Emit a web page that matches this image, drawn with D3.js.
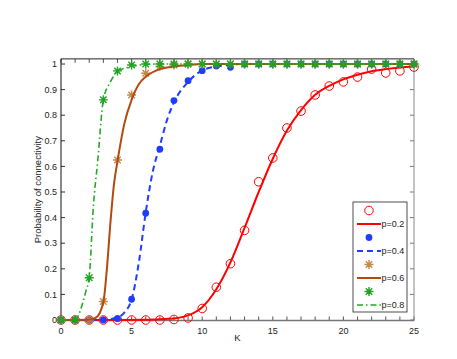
<!DOCTYPE html>
<html>
<head>
<meta charset="utf-8">
<script src="https://cdn.jsdelivr.net/npm/d3@7"></script>
<style>
  body { margin: 0; background: #fff; }
  svg text { font-family: "Liberation Sans", Arial, sans-serif; fill: #222; }
</style>
</head>
<body>
<svg id="chart" width="457" height="359"></svg>
<script>
/* ---------- data ---------- */
const K = [0,1,2,3,4,5,6,7,8,9,10,11,12,13,14,15,16,17,18,19,20,21,22,23,24,25];

// simulated points (markers)
const sim02 = [0,0,0,0,0,0,0,0,0.002,0.008,0.045,0.128,0.22,0.35,0.54,0.633,0.75,0.816,0.879,0.914,0.93,0.949,0.98,0.965,0.973,0.988];
const sim04 = [0,0,0,0,0.005,0.081,0.417,0.667,0.857,0.935,0.974,0.992,0.987,1,1,1,1,1,1,1,1,1,1,1,1,1];
const sim06 = [0,0,0,0.072,0.625,0.879,0.964,0.99,0.996,1,1,1,1,1,1,1,1,1,1,1,1,1,1,1,1,1];
const sim08 = [0,0,0.165,0.86,0.973,0.996,1,1,1,1,1,1,1,1,1,1,1,1,1,1,1,1,1,1,1,1];

// analytical curves
const line02K = [0,2,4,6,7,8,9,10,11,12,13,14,15,16,17,18,19,20,21,22,23,24,25];
const line02  = [0,0,0,0.001,0.003,0.006,0.018,0.05,0.12,0.225,0.36,0.5,0.63,0.74,0.82,0.88,0.915,0.94,0.958,0.972,0.98,0.986,0.99];
const line04K = [0,3,4,4.5,5,5.5,6,6.5,7,7.5,8,9,10,11,12,13,25];
const line04  = [0,0.001,0.01,0.03,0.08,0.22,0.42,0.58,0.68,0.78,0.85,0.93,0.975,0.99,0.997,1,1];
const line06K = [0,2,2.5,3,3.25,3.5,3.75,4,4.5,5,5.5,6,7,8,9,10,25];
const line06  = [0,0.001,0.01,0.07,0.2,0.38,0.53,0.62,0.77,0.86,0.92,0.95,0.98,0.99,0.996,1,1];
const line08K = [0,1,1.25,1.5,1.75,2,2.3,2.6,3,3.5,4,5,6,7,25];
const line08  = [0,0.002,0.02,0.06,0.11,0.17,0.45,0.62,0.86,0.93,0.97,0.99,0.998,1,1];

const yTicks = [0,0.1,0.2,0.3,0.4,0.5,0.6,0.7,0.8,0.9,1];
const xLabelTicks = [0,5,10,15,20,25];
const labels = ['p=0.2','p=0.4','p=0.6','p=0.8'];

/* ---------- layout ---------- */
const svg = d3.select('#chart');
const x = d3.scaleLinear().domain([0,25]).range([61,414]);
const y = d3.scaleLinear().domain([0,1]).range([320,64]);
const boxTop = y(1.02), boxBot = 320.5;

/* ---------- series styles ---------- */
const series = [
  {sim: sim02, lk: line02K, lv: line02, col:'#ff0000', mcol:'#ff0000', mark:'circle', dash:null,      w:2},
  {sim: sim04, lk: line04K, lv: line04, col:'#1f3dff', mcol:'#1f3dff', mark:'dot',    dash:'6,4',     w:2},
  {sim: sim06, lk: line06K, lv: line06, col:'#b24a10', mcol:'#c48a48', mark:'star',   dash:null,      w:2},
  {sim: sim08, lk: line08K, lv: line08, col:'#22aa22', mcol:'#22a022', mark:'star',   dash:'6,3,1.5,3', w:1.6}
];

const starPath = r => {
  const d = r*0.72;
  return `M${-r},0L${r},0M0,${-r}L0,${r}M${-d},${-d}L${d},${d}M${-d},${d}L${d},${-d}`;
};

function drawMarker(sel, s) {
  if (s.mark === 'circle') {
    sel.append('circle').attr('r',4.3).attr('fill','none')
       .attr('stroke',s.mcol).attr('stroke-width',1);
  } else if (s.mark === 'dot') {
    sel.append('circle').attr('r',3.4).attr('fill',s.mcol);
  } else {
    sel.append('path').attr('d',starPath(4.5)).attr('fill','none')
       .attr('stroke',s.mcol).attr('stroke-width',1.4);
  }
}

/* ---------- axes box & ticks ---------- */
const ax = svg.append('g');
// ticks (inward) on all four sides
yTicks.forEach(v => {
  ax.append('line').attr('x1',x(0)).attr('x2',x(0)+4).attr('y1',y(v)).attr('y2',y(v)).attr('stroke','#333');
  ax.append('line').attr('x1',x(25)).attr('x2',x(25)-4).attr('y1',y(v)).attr('y2',y(v)).attr('stroke','#777');
  ax.append('text').attr('x',x(0)-4).attr('y',y(v)).attr('dy','0.35em')
    .attr('text-anchor','end').style('font-size','9px').text(v);
});
K.forEach(v => {
  ax.append('line').attr('x1',x(v)).attr('x2',x(v)).attr('y1',boxBot).attr('y2',boxBot-4).attr('stroke','#555');
  ax.append('line').attr('x1',x(v)).attr('x2',x(v)).attr('y1',boxTop).attr('y2',boxTop+4).attr('stroke','#555');
});
xLabelTicks.forEach(v => {
  ax.append('text').attr('x',x(v)).attr('y',boxBot+13).attr('text-anchor','middle')
    .style('font-size','9px').text(v);
});
ax.append('line').attr('x1',x(0)).attr('x2',x(25)).attr('y1',boxTop).attr('y2',boxTop).attr('stroke','#222');
ax.append('line').attr('x1',x(25)).attr('x2',x(25)).attr('y1',boxTop).attr('y2',boxBot).attr('stroke','#888');
ax.append('line').attr('x1',x(0)).attr('x2',x(25)).attr('y1',boxBot).attr('y2',boxBot).attr('stroke','#777').attr('stroke-width',1.4);
ax.append('line').attr('x1',x(0)).attr('x2',x(0)).attr('y1',boxTop).attr('y2',boxBot).attr('stroke','#111');

svg.append('text').attr('x',(x(0)+x(25))/2).attr('y',boxBot+14).attr('dy','0.7em')
   .attr('text-anchor','middle').style('font-size','9.5px').text('K');
svg.append('text').attr('transform',`translate(41,${(boxTop+boxBot)/2}) rotate(-90)`)
   .attr('text-anchor','middle').style('font-size','9.5px').text('Probability of connectivity');

/* ---------- series ---------- */
const line = d3.line().x(d => x(d[0])).y(d => y(d[1])).curve(d3.curveMonotoneX);
const plot = svg.append('g');
series.forEach(s => {
  K.forEach((k,i) => {
    const m = plot.append('g').attr('transform',`translate(${x(k)},${y(s.sim[i])})`);
    drawMarker(m, s);
  });
  plot.append('path').datum(s.lk.map((k,i) => [k, s.lv[i]]))
    .attr('d',line).attr('fill','none').attr('stroke',s.col)
    .attr('stroke-width',s.w).attr('stroke-dasharray',s.dash)
    .attr('stroke-linejoin','round');
});

/* ---------- legend ---------- */
const lg = svg.append('g').attr('transform','translate(353,202)');
lg.append('rect').attr('width',54).attr('height',110).attr('fill','#fff').attr('stroke','#222').attr('stroke-width',0.8);
series.forEach((s,i) => {
  const y0 = 8.5 + i*27;
  const m = lg.append('g').attr('transform',`translate(16,${y0})`);
  drawMarker(m, s);
  lg.append('line').attr('x1',4).attr('x2',28).attr('y1',y0+13.5).attr('y2',y0+13.5)
    .attr('stroke',s.col).attr('stroke-width',s.w).attr('stroke-dasharray',s.dash);
  lg.append('text').attr('x',28.5).attr('y',y0+13.5).attr('dy','0.35em')
    .style('font-size','9px').text(labels[i]);
});
</script>
</body>
</html>
